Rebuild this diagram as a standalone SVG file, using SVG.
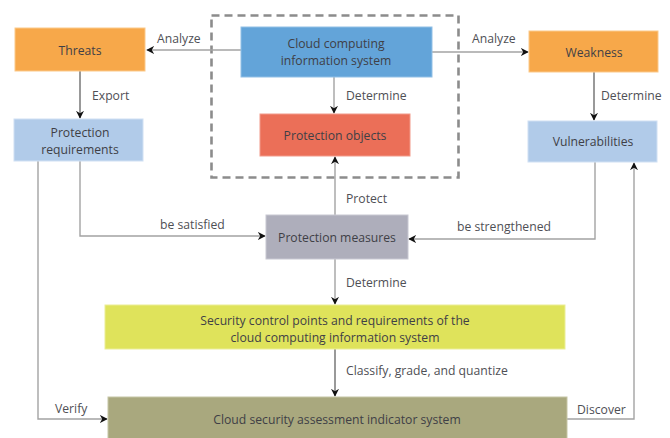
<svg xmlns="http://www.w3.org/2000/svg" width="670" height="438" viewBox="0 0 670 438">
  <style>
    .node { stroke-width: 1; }
    .ntext { font-family: "Open Sans", "Liberation Sans", sans-serif; font-size: 12.2px; fill: #3f3f46; text-anchor: middle; dominant-baseline: central; }
    .lbl { font-family: "Open Sans", "Liberation Sans", sans-serif; font-size: 12.2px; fill: #4f4f55; dominant-baseline: central; }
    .edge { fill: none; stroke: #a3a3a3; stroke-width: 1.4; }
    .dark { stroke: #6e6e6e; }
  </style>
  <defs>
    <marker id="arrow" viewBox="0 0 10 10" refX="9" refY="5" markerWidth="8" markerHeight="8" markerUnits="userSpaceOnUse" orient="auto">
      <path d="M0,0 L10,5 L0,10 L3,5 Z" fill="#111"/>
    </marker>
  </defs>
  <rect width="670" height="438" fill="#ffffff"/>

  <!-- dashed boundary around the information system and its objects -->
  <rect x="211.5" y="15.5" width="247" height="162" fill="none" stroke="#8c8c8c" stroke-width="2.6" stroke-dasharray="8,5"/>

  <g id="connectors">
    <path class="edge" d="M241,50 H147" marker-end="url(#arrow)"/>
    <path class="edge" d="M432,52 H528" marker-end="url(#arrow)"/>
    <path class="edge dark" d="M80,71 V118" marker-end="url(#arrow)"/>
    <path class="edge" d="M334,77 V113" marker-end="url(#arrow)"/>
    <path class="edge dark" d="M594,72 V120" marker-end="url(#arrow)"/>
    <path class="edge" d="M335,215 V157" marker-end="url(#arrow)"/>
    <path class="edge" d="M80,161 V236 H265" marker-end="url(#arrow)"/>
    <path class="edge" d="M595,162 V239 H409" marker-end="url(#arrow)"/>
    <path class="edge" d="M335,259 V304" marker-end="url(#arrow)"/>
    <path class="edge dark" d="M335,349 V396" marker-end="url(#arrow)"/>
    <path class="edge" d="M38,161 V419 H107" marker-end="url(#arrow)"/>
    <path class="edge" d="M567,419 H634 V163" marker-end="url(#arrow)"/>

    <text class="lbl" x="157" y="38">Analyze</text>
    <text class="lbl" x="472" y="38">Analyze</text>
    <text class="lbl" x="92" y="95">Export</text>
    <text class="lbl" x="346" y="95">Determine</text>
    <text class="lbl" x="601" y="95">Determine</text>
    <text class="lbl" x="346" y="198">Protect</text>
    <text class="lbl" x="160" y="224">be satisfied</text>
    <text class="lbl" x="457" y="226">be strengthened</text>
    <text class="lbl" x="346" y="282">Determine</text>
    <text class="lbl" x="346" y="370">Classify, grade, and quantize</text>
    <text class="lbl" x="55" y="408">Verify</text>
    <text class="lbl" x="577" y="409">Discover</text>
  </g>

  <g id="threats">
    <rect class="node" x="15" y="28" width="130" height="43" fill="#f7a84a" stroke="#fbc98a"/>
    <text class="ntext" x="80" y="50">Threats</text>
  </g>
  <g id="protection-requirements">
    <rect class="node" x="14" y="119" width="129" height="42" fill="#b1cbe9" stroke="#d0e0f3"/>
    <text class="ntext" x="80" y="132">Protection</text>
    <text class="ntext" x="80" y="149">requirements</text>
  </g>
  <g id="cloud-system">
    <rect class="node" x="241" y="27" width="191" height="50" fill="#63a4d9" stroke="#92c0e6"/>
    <text class="ntext" x="336" y="43">Cloud computing</text>
    <text class="ntext" x="336" y="60">information system</text>
  </g>
  <g id="protection-objects">
    <rect class="node" x="260" y="114" width="150" height="42" fill="#eb6f58" stroke="#f29a89"/>
    <text class="ntext" x="335" y="135">Protection objects</text>
  </g>
  <g id="weakness">
    <rect class="node" x="529" y="31" width="129" height="41" fill="#f7a84a" stroke="#fbc98a"/>
    <text class="ntext" x="594" y="52">Weakness</text>
  </g>
  <g id="vulnerabilities">
    <rect class="node" x="528" y="121" width="129" height="41" fill="#b1cbe9" stroke="#d0e0f3"/>
    <text class="ntext" x="593" y="141">Vulnerabilities</text>
  </g>
  <g id="protection-measures">
    <rect class="node" x="266" y="215" width="142" height="44" fill="#aeaebb" stroke="#c8c8d2"/>
    <text class="ntext" x="337" y="237">Protection measures</text>
  </g>
  <g id="security-control-points">
    <rect class="node" x="105" y="305" width="460" height="44" fill="#dfe35b" stroke="#ebee96"/>
    <text class="ntext" x="335" y="320">Security control points and requirements of the</text>
    <text class="ntext" x="335" y="337">cloud computing information system</text>
  </g>
  <g id="assessment-indicator-system">
    <rect class="node" x="108" y="397" width="459" height="44" fill="#a9a87e" stroke="#c6c5a5"/>
    <text class="ntext" x="337" y="419">Cloud security assessment indicator system</text>
  </g>
</svg>
